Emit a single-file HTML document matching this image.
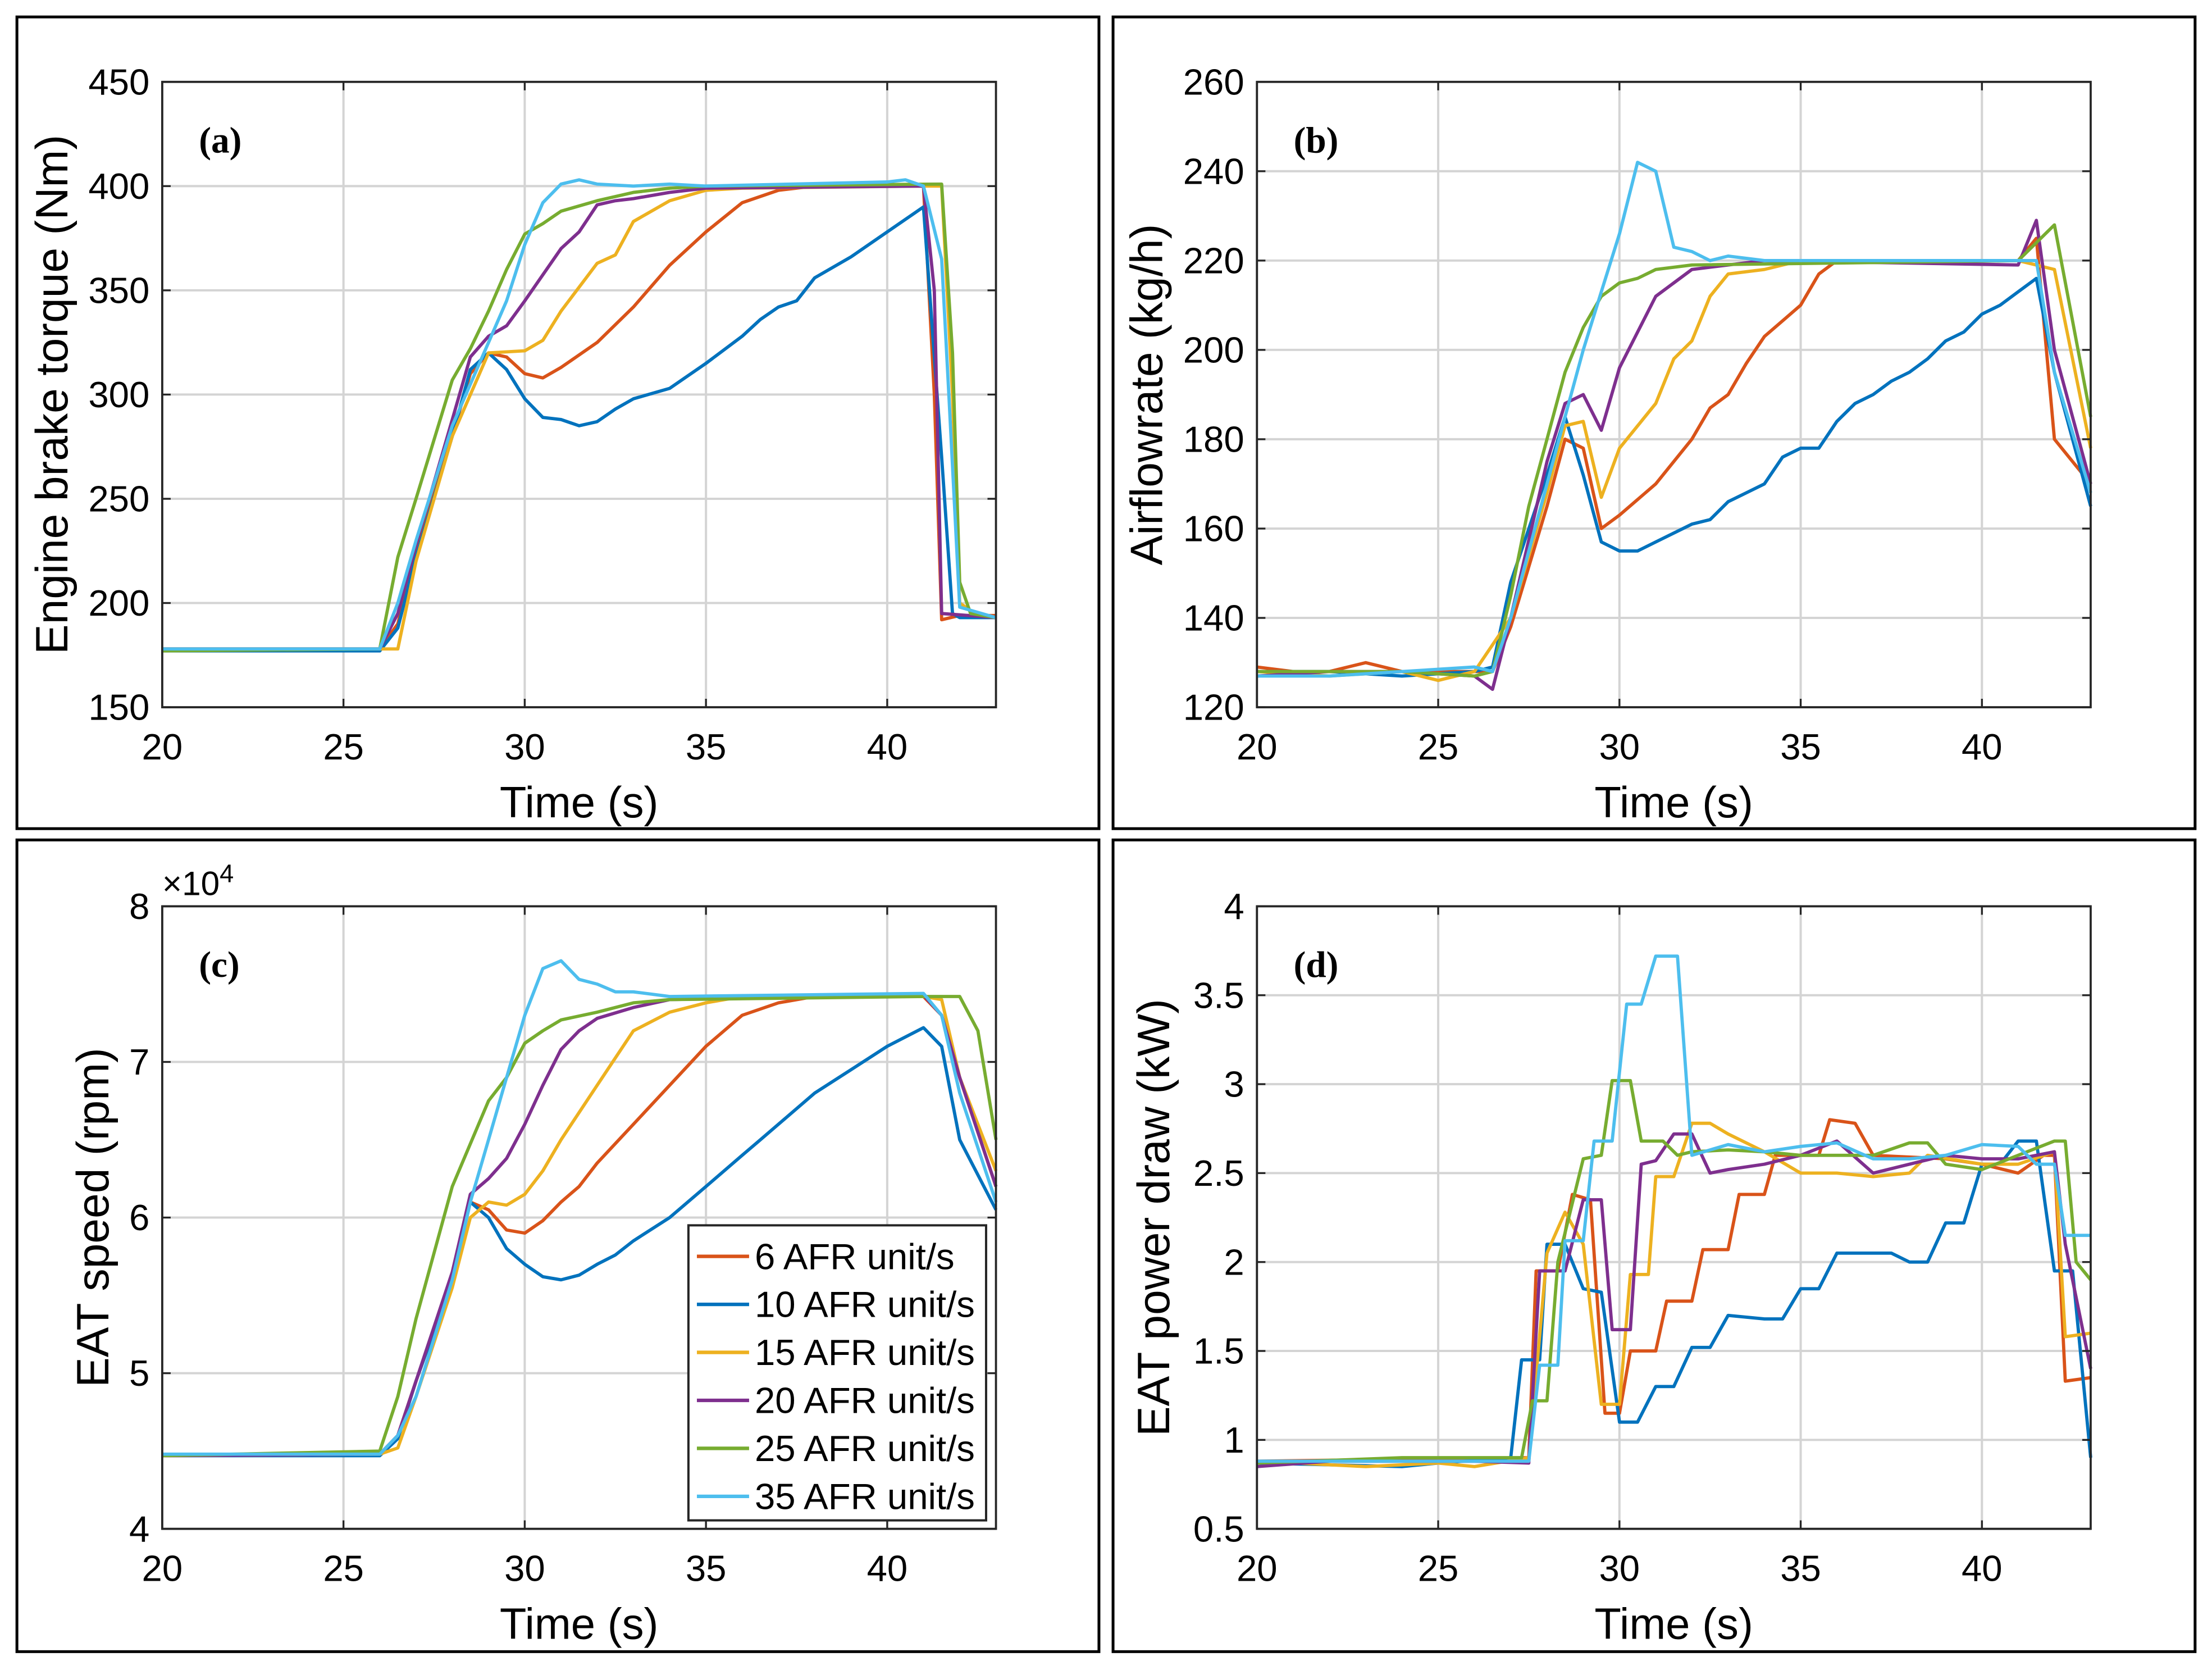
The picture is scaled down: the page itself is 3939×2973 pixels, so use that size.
<!DOCTYPE html>
<html><head><meta charset="utf-8"><style>
html,body{margin:0;padding:0;background:#fff;}
svg{display:block;}
text{font-family:"Liberation Sans",Arial,sans-serif;fill:#000;}
</style></head><body>
<svg id="fig" width="3939" height="2973" viewBox="0 0 1568 1183" preserveAspectRatio="none" xmlns="http://www.w3.org/2000/svg">
<rect x="0" y="0" width="1568" height="1183" fill="#fff"/>
</svg>
<script>
const seriesLabels = ["6 AFR unit/s","10 AFR unit/s","15 AFR unit/s","20 AFR unit/s","25 AFR unit/s","35 AFR unit/s"];
const seriesColors = ["#D95319","#0072BD","#EDB120","#7E2F8E","#77AC30","#4DBEEE"];
const xTicks = [20,25,30,35,40];

// Panel (a) torque (Nm)
const torqueTicks = [150,200,250,300,350,400,450];
const torque6 = [[20,178],[26,178],[26.5,190],[27,225],[28,280],[28.5,310],[29,320],[29.5,318],[30,310],[30.5,308],[31,313],[32,325],[33,342],[34,362],[35,378],[36,392],[37,398],[38,400],[41,400],[41.3,300],[41.5,192],[42,194],[43,194]];
const torque10 = [[20,177],[26,177],[26.5,188],[27,222],[28,280],[28.5,312],[29,320],[29.5,312],[30,298],[30.5,289],[31,288],[31.5,285],[32,287],[32.5,293],[33,298],[34,303],[35,315],[36,328],[36.5,336],[37,342],[37.5,345],[38,356],[39,366],[40,378],[41,390],[41.5,270],[41.8,195],[42,193],[43,193]];
const torque15 = [[20,178],[26.5,178],[27,220],[28,280],[29,320],[30,321],[30.5,326],[31,340],[32,363],[32.5,367],[33,383],[34,393],[35,398],[36,399],[41,400],[41.5,400],[41.8,300],[42,200],[42.5,194],[43,193]];
const torque20 = [[20,178],[26,178],[26.5,195],[27,228],[28,288],[28.5,318],[29,328],[29.5,333],[30,345],[31,370],[31.5,378],[32,391],[32.5,393],[33,394],[34,397],[35,399],[41,400],[41.3,350],[41.5,195],[43,193]];
const torque25 = [[20,177],[26,178],[26.5,222],[27,250],[28,307],[28.5,322],[29,340],[29.5,360],[30,377],[30.5,382],[31,388],[32,393],[33,397],[34,399],[35,400],[41.5,401],[41.8,320],[42,210],[42.3,195],[43,193]];
const torque35 = [[20,178],[26,178],[26.5,200],[27,230],[28,285],[29,325],[29.5,345],[30,372],[30.5,392],[31,401],[31.5,403],[32,401],[33,400],[34,401],[35,400],[40,402],[40.5,403],[41,400],[41.5,365],[41.7,300],[42,198],[43,193]];

// Panel (b) airflow (kg/h)
const airTicks = [120,140,160,180,200,220,240,260];
const air6 = [[20,129],[21,128],[22,128],[23,130],[24,128],[25,128],[26,128],[26.5,128],[27,138],[28,165],[28.5,180],[29,178],[29.5,160],[30,163],[31,170],[32,180],[32.5,187],[33,190],[33.5,197],[34,203],[35,210],[35.5,217],[36,220],[41,220],[41.5,225],[42,180],[43,170]];
const air10 = [[20,128],[22,128],[24,127],[26,128],[26.5,129],[27,148],[28,172],[28.5,185],[29,172],[29.5,157],[30,155],[30.5,155],[31,157],[32,161],[32.5,162],[33,166],[33.5,168],[34,170],[34.5,176],[35,178],[35.5,178],[36,184],[36.5,188],[37,190],[37.5,193],[38,195],[38.5,198],[39,202],[39.5,204],[40,208],[40.5,210],[41,213],[41.5,216],[42,195],[43,165]];
const air15 = [[20,128],[22,127],[24,128],[25,126],[26,128],[27,140],[28,168],[28.5,183],[29,184],[29.5,167],[30,178],[31,188],[31.5,198],[32,202],[32.5,212],[33,217],[34,218],[35,220],[41,220],[42,218],[43,178]];
const air20 = [[20,127],[22,128],[24,128],[26,127],[26.5,124],[27,140],[28,175],[28.5,188],[29,190],[29.5,182],[30,196],[31,212],[31.5,215],[32,218],[33,219],[34,220],[41,219],[41.5,229],[42,200],[43,170]];
const air25 = [[20,128],[22,128],[24,128],[26,127],[26.5,128],[27,145],[27.5,165],[28,180],[28.5,195],[29,205],[29.5,212],[30,215],[30.5,216],[31,218],[32,219],[41,220],[42,228],[43,185]];
const air35 = [[20,127],[22,127],[24,128],[26,129],[26.5,128],[27,140],[28,170],[28.5,185],[29,200],[29.5,213],[30,226],[30.5,242],[31,240],[31.5,223],[32,222],[32.5,220],[33,221],[34,220],[41,220],[41.5,220],[42,195],[43,168]];

// Panel (c) EAT speed (x10^4 rpm)
const speedTicks = [4,5,6,7,8];
const speed6 = [[20,4.47],[26,4.48],[26.5,4.6],[27,4.95],[28,5.6],[28.5,6.1],[29,6.05],[29.5,5.92],[30,5.9],[30.5,5.98],[31,6.1],[31.5,6.2],[32,6.35],[33,6.6],[34,6.85],[35,7.1],[36,7.3],[37,7.38],[38,7.42],[41,7.42],[41.5,7.3],[42,6.9],[43,6.2]];
const speed10 = [[20,4.47],[26,4.47],[26.5,4.58],[27,4.95],[28,5.6],[28.5,6.1],[29,6.0],[29.5,5.8],[30,5.7],[30.5,5.62],[31,5.6],[31.5,5.63],[32,5.7],[32.5,5.76],[33,5.85],[34,6.0],[35,6.2],[36,6.4],[36.5,6.5],[37,6.6],[38,6.8],[39,6.95],[40,7.1],[41,7.22],[41.5,7.1],[42,6.5],[43,6.05]];
const speed15 = [[20,4.47],[26,4.48],[26.5,4.52],[27,4.85],[28,5.55],[28.5,6.0],[29,6.1],[29.5,6.08],[30,6.15],[30.5,6.3],[31,6.5],[32,6.85],[33,7.2],[34,7.32],[35,7.38],[36,7.42],[41,7.42],[41.5,7.4],[42,6.9],[43,6.3]];
const speed20 = [[20,4.47],[26,4.48],[26.5,4.6],[27,4.95],[28,5.65],[28.5,6.15],[29,6.25],[29.5,6.38],[30,6.6],[30.5,6.85],[31,7.08],[31.5,7.2],[32,7.28],[33,7.35],[34,7.4],[41,7.43],[41.5,7.3],[42,6.9],[43,6.2]];
const speed25 = [[20,4.47],[26,4.5],[26.5,4.85],[27,5.35],[28,6.2],[29,6.75],[29.5,6.9],[30,7.12],[30.5,7.2],[31,7.27],[32,7.32],[33,7.38],[34,7.4],[41,7.42],[42,7.42],[42.5,7.2],[43,6.5]];
const speed35 = [[20,4.48],[26,4.48],[26.5,4.6],[27,4.85],[28,5.6],[28.5,6.1],[29,6.5],[29.5,6.9],[30,7.3],[30.5,7.6],[31,7.65],[31.5,7.53],[32,7.5],[32.5,7.45],[33,7.45],[34,7.42],[41,7.44],[41.5,7.3],[42,6.8],[43,6.1]];

// Panel (d) EAT power (kW)
const powerTicks = [0.5,1,1.5,2,2.5,3,3.5,4];
const power6 = [[20,0.88],[27.5,0.9],[27.7,1.95],[28.3,1.95],[28.7,2.38],[29.2,2.35],[29.6,1.15],[30,1.15],[30.3,1.5],[31,1.5],[31.3,1.78],[32,1.78],[32.3,2.07],[33,2.07],[33.3,2.38],[34,2.38],[34.3,2.6],[35.5,2.6],[35.8,2.8],[36.5,2.78],[37,2.6],[39,2.58],[40,2.55],[41,2.5],[41.7,2.6],[42,2.6],[42.3,1.33],[43,1.35]];
const power10 = [[20,0.87],[24,0.85],[25,0.87],[27,0.9],[27.3,1.45],[27.8,1.45],[28,2.1],[28.5,2.1],[29,1.85],[29.5,1.83],[30,1.1],[30.5,1.1],[31,1.3],[31.5,1.3],[32,1.52],[32.5,1.52],[33,1.7],[34,1.68],[34.5,1.68],[35,1.85],[35.5,1.85],[36,2.05],[37.5,2.05],[38,2.0],[38.5,2.0],[39,2.22],[39.5,2.22],[40,2.55],[40.5,2.55],[41,2.68],[41.5,2.68],[42,1.95],[42.5,1.95],[43,0.9]];
const power15 = [[20,0.88],[23,0.85],[25,0.87],[26,0.85],[27.5,0.9],[28,2.05],[28.5,2.28],[29,2.1],[29.5,1.2],[30,1.2],[30.3,1.93],[30.8,1.93],[31,2.48],[31.5,2.48],[32,2.78],[32.5,2.78],[33,2.72],[34,2.62],[35,2.5],[36,2.5],[37,2.48],[38,2.5],[38.5,2.6],[40,2.55],[41,2.55],[42,2.62],[42.3,1.58],[43,1.6]];
const power20 = [[20,0.85],[22,0.88],[26,0.88],[27.5,0.87],[27.8,1.95],[28.5,1.95],[29,2.35],[29.5,2.35],[29.8,1.62],[30.3,1.62],[30.6,2.55],[31,2.57],[31.5,2.72],[32,2.72],[32.5,2.5],[33,2.52],[34,2.55],[35,2.6],[36,2.68],[37,2.5],[38,2.55],[39,2.6],[40,2.58],[41,2.58],[42,2.62],[42.3,2.1],[43,1.4]];
const power25 = [[20,0.87],[24,0.9],[27.3,0.9],[27.6,1.22],[28,1.22],[28.3,2.0],[29,2.58],[29.5,2.6],[29.8,3.02],[30.3,3.02],[30.6,2.68],[31.2,2.68],[31.6,2.6],[32,2.62],[33,2.63],[34,2.62],[35,2.6],[37,2.6],[38,2.67],[38.5,2.67],[39,2.55],[40,2.52],[41,2.6],[42,2.68],[42.3,2.68],[42.6,2.0],[43,1.9]];
const power35 = [[20,0.88],[26,0.88],[27.5,0.88],[27.8,1.42],[28.3,1.42],[28.5,2.12],[29,2.12],[29.3,2.68],[29.8,2.68],[30.2,3.45],[30.6,3.45],[31,3.72],[31.6,3.72],[32,2.6],[33,2.66],[34,2.62],[35,2.65],[36,2.67],[37,2.58],[38,2.58],[39,2.6],[40,2.66],[41,2.65],[41.5,2.55],[42,2.55],[42.3,2.15],[43,2.15]];

const NS = "http://www.w3.org/2000/svg";
const svg = document.getElementById('fig');
function mk(tag, attrs, parent){ const e=document.createElementNS(NS,tag); for(const k in attrs) e.setAttribute(k,attrs[k]); (parent||svg).appendChild(e); return e; }

const panels = [
  {id:'a', frame:[12,12,767,575], x0:115, x1:706, yTop:58, yBot:501, ymin:150, ymax:450, ticks:torqueTicks, series:[torque6,torque10,torque15,torque20,torque25,torque35], ylabel:'Engine brake torque (Nm)', ylx:37, tag:'(a)'},
  {id:'b', frame:[789,12,767,575], x0:891, x1:1482, yTop:58, yBot:501, ymin:120, ymax:260, ticks:airTicks, series:[air6,air10,air15,air20,air25,air35], ylabel:'Airflowrate (kg/h)', ylx:813, tag:'(b)'},
  {id:'c', frame:[12,595,767,575], x0:115, x1:706, yTop:642, yBot:1083, ymin:4, ymax:8, ticks:speedTicks, series:[speed6,speed10,speed15,speed20,speed25,speed35], ylabel:'EAT speed (rpm)', ylx:66, tag:'(c)', exp:true, legend:true},
  {id:'d', frame:[789,595,767,575], x0:891, x1:1482, yTop:642, yBot:1083, ymin:0.5, ymax:4, ticks:powerTicks, series:[power6,power10,power15,power20,power25,power35], ylabel:'EAT power draw (kW)', ylx:818, tag:'(d)'}
];

panels.forEach(p=>{
  const g = mk('g',{});
  
  
  const fr = mk('rect',{x:p.frame[0],y:p.frame[1],width:p.frame[2],height:p.frame[3],fill:'none',stroke:'#000','stroke-width':2},g);
  
  
  const xs = t=> p.x0 + (t-20)/(43-20)*(p.x1-p.x0);
  const ys = v=> p.yBot - (v-p.ymin)/(p.ymax-p.ymin)*(p.yBot-p.yTop);
  xTicks.forEach(t=>{
    const l=mk('line',{x1:xs(t),x2:xs(t),y1:p.yTop,y2:p.yBot,stroke:'#d4d4d4','stroke-width':1.6},g);
    
    
  });
  p.ticks.forEach(v=>{
    const l=mk('line',{x1:p.x0,x2:p.x1,y1:ys(v),y2:ys(v),stroke:'#d4d4d4','stroke-width':1.6},g);
    
    
  });
  p.series.forEach((s,i)=>{
    const d = s.map((pt,j)=>(j?'L':'M')+xs(pt[0]).toFixed(1)+','+ys(pt[1]).toFixed(1)).join(' ');
    const path = mk('path',{d:d,fill:'none',stroke:seriesColors[i],'stroke-width':2.3,'stroke-linejoin':'round'},g);
    
    
  });
  const box = mk('rect',{x:p.x0,y:p.yTop,width:p.x1-p.x0,height:p.yBot-p.yTop,fill:'none',stroke:'#262626','stroke-width':1.5},g);
  
  
  xTicks.forEach(t=>{
    mk('line',{x1:xs(t),x2:xs(t),y1:p.yBot,y2:p.yBot-6,stroke:'#262626','stroke-width':1.3},g);
    mk('line',{x1:xs(t),x2:xs(t),y1:p.yTop,y2:p.yTop+6,stroke:'#262626','stroke-width':1.3},g);
    const tx=mk('text',{x:xs(t),y:p.yBot+37,'text-anchor':'middle','font-size':26},g);
    tx.textContent=t;
    
    
  });
  p.ticks.forEach(v=>{
    mk('line',{x1:p.x0,x2:p.x0+6,y1:ys(v),y2:ys(v),stroke:'#262626','stroke-width':1.3},g);
    mk('line',{x1:p.x1,x2:p.x1-6,y1:ys(v),y2:ys(v),stroke:'#262626','stroke-width':1.3},g);
    const tx=mk('text',{x:p.x0-9,y:ys(v)+9,'text-anchor':'end','font-size':26},g);
    tx.textContent=v;
    
    
  });
  const xl=mk('text',{x:(p.x0+p.x1)/2,y:p.yBot+78,'text-anchor':'middle','font-size':31},g);
  xl.textContent='Time (s)';
  
  
  const yc=(p.yTop+p.yBot)/2;
  const yl=mk('text',{x:p.ylx,y:yc,'text-anchor':'middle','font-size':32,transform:'rotate(-90 '+p.ylx+' '+yc+')','dominant-baseline':'central'},g);
  yl.textContent=p.ylabel;
  
  
  const tg=mk('text',{x:p.x0+26,y:p.yTop+50,'font-size':26,'font-weight':'bold',style:'font-family:"Liberation Serif",serif'},g);
  tg.textContent=p.tag;
  
  
  if(p.exp){
    const ex=mk('text',{x:p.x0,y:p.yTop-8,'font-size':24},g);
    ex.innerHTML='×10<tspan dy="-9" font-size="18">4</tspan>';
    
    
  }
  if(p.legend){
    const lg=mk('g',{},g);
    
    
    mk('rect',{x:488,y:868,width:211,height:209,fill:'#fff',stroke:'#262626','stroke-width':1.6},lg);
    seriesLabels.forEach((lab,i)=>{
      const y=890+i*34;
      const ent=mk('g',{},lg);
      
      
      mk('line',{x1:494,x2:531,y1:y,y2:y,stroke:seriesColors[i],'stroke-width':2.5},ent);
      const t=mk('text',{x:535,y:y+9,'font-size':26},ent);
      t.textContent=lab;
    });
  }
});
</script>
</body></html>
